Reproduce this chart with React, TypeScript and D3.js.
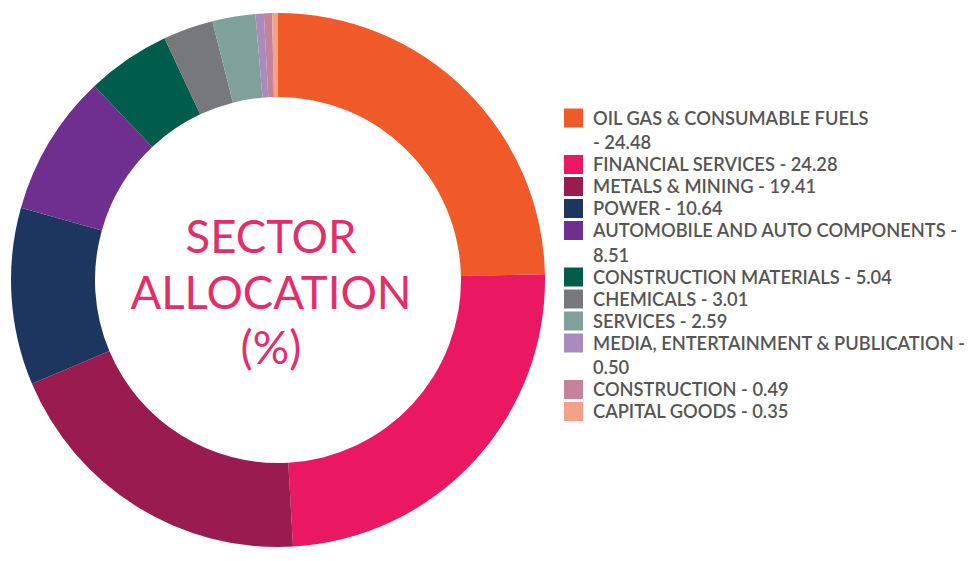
import React from "react";
import * as d3 from "d3";

const categories = [
  "OIL GAS & CONSUMABLE FUELS",
  "FINANCIAL SERVICES",
  "METALS & MINING",
  "POWER",
  "AUTOMOBILE AND AUTO COMPONENTS",
  "CONSTRUCTION MATERIALS",
  "CHEMICALS",
  "SERVICES",
  "MEDIA, ENTERTAINMENT & PUBLICATION",
  "CONSTRUCTION",
  "CAPITAL GOODS",
];
const values = [24.48, 24.28, 19.41, 10.64, 8.51, 5.04, 3.01, 2.59, 0.5, 0.49, 0.35];
const colors = [
  "#f05a28", "#ea1763", "#9a1b4f", "#1d3660", "#6f2f8f", "#005c4b",
  "#77787b", "#7fa199", "#a98bc0", "#c4839b", "#f5a185",
];
// where the legend label wraps: "before" the dash, "after" the dash, or none
const wrapModes = ["before", "", "", "", "after", "", "", "", "after", "", ""];
const titleLines = ["SECTOR", "ALLOCATION", "(%)"];

const W = 968, H = 561;
const cx = 278, cy = 280, R = 267, r = 183;

export default function App() {
  const pie = d3.pie<number>().sort(null).value((d) => d);
  const arcs = pie(values);
  const arc = d3.arc<d3.PieArcDatum<number>>().innerRadius(r).outerRadius(R);

  const rows: { text: string; y: number; swatch?: string }[] = [];
  let y = 118;
  categories.forEach((c, i) => {
    const v = values[i].toFixed(2);
    let lines: string[];
    if (wrapModes[i] === "before") lines = [c, `- ${v}`];
    else if (wrapModes[i] === "after") lines = [`${c} -`, v];
    else lines = [`${c} - ${v}`];
    lines.forEach((t, j) => {
      if (j > 0) y += 24.5;
      rows.push({ text: t, y, swatch: j === 0 ? colors[i] : undefined });
    });
    y += 22;
  });

  return (
    <svg width={W} height={H} style={{ position: "absolute", left: 0, top: 0 }}>
      <rect width={W} height={H} fill="#fff" />
      <g transform={`translate(${cx},${cy})`}>
        {arcs.map((a, i) => (
          <path key={i} d={arc(a) || ""} fill={colors[i]} />
        ))}
      </g>
      <g fontFamily="Lato" fill="#e0306a" fontSize={45.5} textAnchor="middle">
        {titleLines.map((t, i) => (
          <text key={i} x={271} y={253 + i * 55.5}>{t}</text>
        ))}
      </g>
      <g fontFamily="Lato" fontWeight={600} fontSize={18.3} fill="#555">
        {rows.map((row, i) => (
          <g key={i}>
            {row.swatch && (
              <rect x={564} y={row.y - 9.5} width={19} height={19} fill={row.swatch} />
            )}
            <text x={593} y={row.y + 6.5}>{row.text}</text>
          </g>
        ))}
      </g>
    </svg>
  );
}
